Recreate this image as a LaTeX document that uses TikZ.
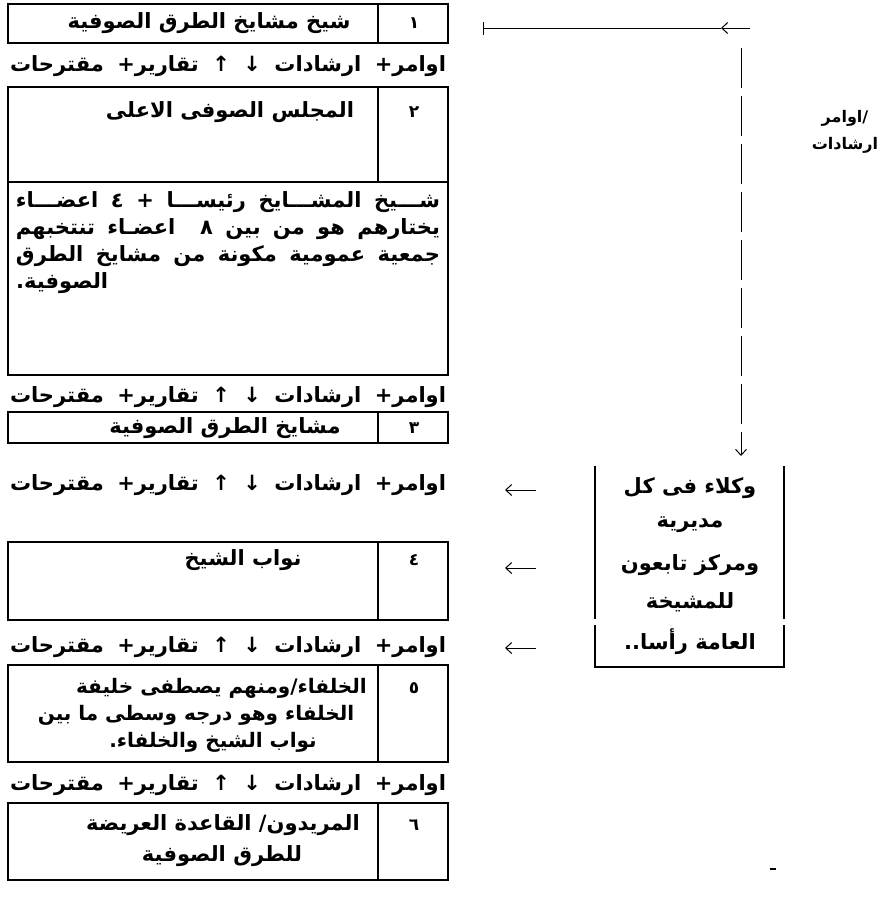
\documentclass[tikz,border=0pt]{standalone}
\usepackage{fontspec}
\usetikzlibrary{arrows.meta}
\TeXXeTstate=1
\newfontfamily\arfont[Script=Arabic]{DejaVu Sans}
\newcommand\ordersrow{\hbox to 436pt{\beginR اوامر+\hfil ارشادات\hfil ↓\hfil ↑\hfil تقارير+\hfil مقترحات\endR}}
\begin{document}
\begin{tikzpicture}[x=1pt,y=-1pt,
  frame/.style={line width=1.8pt},
  ar/.style={inner sep=0pt, font=\arfont\bfseries\fontsize{21}{24}\selectfont},
  arm/.style={inner sep=0pt, font=\arfont\bfseries\fontsize{20}{23}\selectfont},
  num/.style={inner sep=0pt, font=\arfont\bfseries\fontsize{17}{20}\selectfont},
  arsm/.style={inner sep=0pt, font=\arfont\bfseries\fontsize{16}{19}\selectfont},
  thinline/.style={line width=1pt},
  tipend/.style={-{Straight Barb[length=6pt,width=11pt]}}
]
\useasboundingbox (0,0) rectangle (895,910);
\fill[white] (0,0) rectangle (895,910);

% ---- box 1
\draw[frame] (8,4) rectangle (448,43);
\draw[frame] (378,4) -- (378,43);
\node[ar] (t1) at (209,23) {\beginR شيخ مشايخ الطرق الصوفية\endR};
\node[num] (n1) at (414,23) {١};
\node[ar] (r1) at (228,66) {\ordersrow};

% ---- box 2
\draw[frame] (8,87) rectangle (448,375);
\draw[frame] (8,182) -- (448,182);
\draw[frame] (378,87) -- (378,182);
\node[ar] (t2) at (230,112) {\beginR المجلس الصوفى الاعلى\endR};
\node[num] (n2) at (414,112) {٢};
\node[ar] (p1) at (228,202) {\hbox to 424pt{\beginR شـــيخ\hfil المشـــايخ\hfil رئيســـا\hfil +\hfil ٤\hfil اعضـــاء\endR}};
\node[ar] (p2) at (228,229) {\hbox to 424pt{\beginR يختارهم\hfil هو\hfil من\hfil بين\hfil ٨\hfil\hfil اعضـاء\hfil تنتخبهم\endR}};
\node[ar] (p3) at (228,256) {\hbox to 424pt{\beginR جمعية\hfil عمومية\hfil مكونة\hfil من\hfil مشايخ\hfil الطرق\endR}};
\node[ar, anchor=west] (p4) at (16,283) {\beginR الصوفية.\endR};
\node[ar] (r2) at (228,397) {\ordersrow};

% ---- box 3
\draw[frame] (8,412) rectangle (448,443);
\draw[frame] (378,412) -- (378,443);
\node[ar] (t3) at (225,428) {\beginR مشايخ الطرق الصوفية\endR};
\node[num] (n3) at (414,428) {٣};
\node[ar] (r3) at (228,485) {\ordersrow};

% ---- box 4
\draw[frame] (8,542) rectangle (448,620);
\draw[frame] (378,542) -- (378,620);
\node[ar] (t4) at (243,560) {\beginR نواب الشيخ\endR};
\node[num] (n4) at (414,560) {٤};
\node[ar] (r4) at (228,647) {\ordersrow};

% ---- box 5
\draw[frame] (8,665) rectangle (448,762);
\draw[frame] (378,665) -- (378,762);
\node[arm, anchor=east] (t5a) at (367,688) {\beginR الخلفاء/ومنهم يصطفى خليفة\endR};
\node[arm] (t5b) at (196,715) {\beginR الخلفاء وهو درجه وسطى ما بين\endR};
\node[arm] (t5c) at (213,742) {\beginR نواب الشيخ والخلفاء.\endR};
\node[num] (n5) at (414,688) {٥};
\node[ar] (r5) at (228,785) {\ordersrow};

% ---- box 6
\draw[frame] (8,803) rectangle (448,880);
\draw[frame] (378,803) -- (378,880);
\node[ar] (t6a) at (223,825) {\beginR المريدون/ القاعدة العريضة\endR};
\node[ar] (t6b) at (222,856) {\beginR للطرق الصوفية\endR};
\node[num] (n6) at (414,825) {٦};

% ---- right side
\coordinate (hr) at (750,28);
\coordinate (hm) at (721,28);
\coordinate (hl) at (483,28);
\draw[thinline, tipend] (hr) -- (hm);
\draw[thinline] (hm) -- (hl);
\draw[thinline] (483,22) -- (483,35);

\node[arsm] (lab1) at (845,118) {\beginR اوامر\endR/};
\node[arsm] (lab2) at (845,145) {\beginR ارشادات\endR};

\coordinate (vt) at (741,48);
\coordinate (vb) at (741,456);
\draw[thinline, tipend, dash pattern=on 40pt off 8pt] (vt) -- (vb);

% agents box (no top edge)
\draw[frame] (595,466) -- (595,619);
\draw[frame] (595,625) -- (595,667) -- (784,667) -- (784,625);
\draw[frame] (784,619) -- (784,466);
\node[ar] (v1) at (690,488) {\beginR وكلاء فى كل\endR};
\node[ar] (v2) at (690,525) {\beginR مديرية\endR};
\node[ar] (v3) at (690,565) {\beginR ومركز تابعون\endR};
\node[ar] (v4) at (690,602) {\beginR للمشيخة\endR};
\node[ar] (v5) at (690,642) {\beginR العامة رأسا..\endR};

\coordinate (a1s) at (536,490); \coordinate (a1e) at (505,490);
\coordinate (a2s) at (536,568); \coordinate (a2e) at (505,568);
\coordinate (a3s) at (536,648); \coordinate (a3e) at (505,648);
\draw[thinline, tipend] (a1s) -- (a1e);
\draw[thinline, tipend] (a2s) -- (a2e);
\draw[thinline, tipend] (a3s) -- (a3e);

% small speck below, as in the scan
\draw[line width=1.5pt] (770,869) -- (776,869);
\end{tikzpicture}
\end{document}
